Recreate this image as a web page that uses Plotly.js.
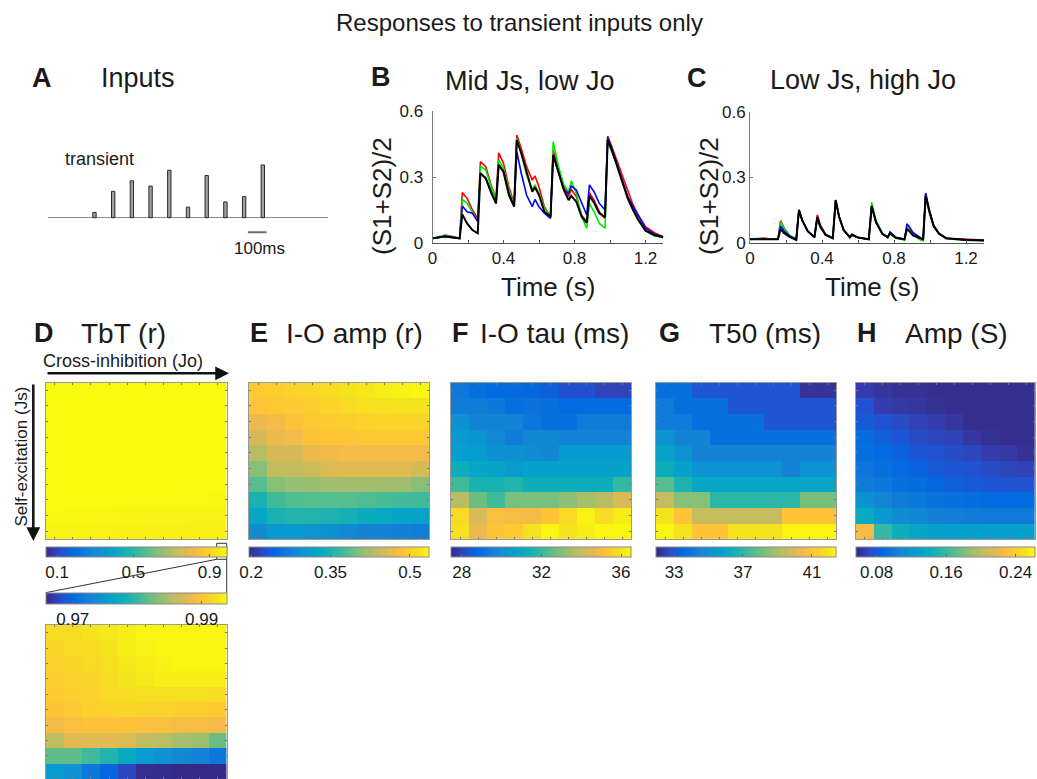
<!DOCTYPE html>
<html><head><meta charset="utf-8">
<script src="https://cdn.plot.ly/plotly-3.0.1.min.js"></script>
<style>html,body{margin:0;padding:0;background:#fff}#plot{width:1037px;height:779px}</style>
</head><body><div id="plot"></div>
<script>
const W = 1037, H = 779;
const FONT = 'Liberation Sans, Arial, Helvetica, sans-serif';

// ---------- Panel A: transient inputs ----------
const inputTimes = [0.05, 0.15, 0.25, 0.35, 0.45, 0.55, 0.65, 0.75, 0.85, 0.95];
const inputAmps  = [0.1, 0.5, 0.7, 0.6, 0.9, 0.2, 0.8, 0.3, 0.4, 1.0];

// ---------- Panel B: Mid Js, low Jo ----------
const timeB = [0,0.04,0.07,0.1,0.153,0.168,0.195,0.225,0.255,0.27,0.3,0.33,0.358,0.373,0.4,0.43,0.46,0.475,0.5,0.53,0.562,0.577,0.6,0.63,0.665,0.68,0.71,0.74,0.767,0.782,0.81,0.84,0.869,0.884,0.91,0.94,0.972,0.987,1.01,1.04,1.07,1.1,1.13,1.16,1.2,1.25,1.3];
const redB   = [0.021,0.026,0.036,0.032,0.021,0.229,0.203,0.15,0.112,0.37,0.347,0.264,0.203,0.41,0.362,0.256,0.18,0.491,0.43,0.347,0.286,0.305,0.256,0.165,0.12,0.423,0.332,0.256,0.211,0.244,0.211,0.127,0.097,0.229,0.195,0.142,0.112,0.486,0.438,0.37,0.302,0.233,0.173,0.127,0.074,0.047,0.029];
const greenB = [0.021,0.03,0.032,0.03,0.021,0.198,0.18,0.142,0.10,0.35,0.332,0.256,0.203,0.377,0.34,0.24,0.173,0.476,0.408,0.309,0.241,0.264,0.226,0.158,0.12,0.461,0.347,0.264,0.233,0.282,0.226,0.12,0.067,0.18,0.142,0.089,0.067,0.461,0.415,0.355,0.279,0.203,0.15,0.102,0.056,0.032,0.024];
const blueB  = [0.021,0.026,0.03,0.028,0.021,0.168,0.142,0.135,0.097,0.317,0.294,0.226,0.18,0.355,0.324,0.226,0.168,0.415,0.317,0.218,0.165,0.198,0.165,0.135,0.112,0.40,0.324,0.241,0.226,0.259,0.241,0.18,0.127,0.264,0.233,0.18,0.15,0.48,0.43,0.355,0.279,0.211,0.165,0.12,0.067,0.041,0.026];
const blackB = [0.021,0.026,0.03,0.026,0.021,0.13,0.089,0.059,0.044,0.317,0.294,0.233,0.18,0.355,0.324,0.218,0.165,0.468,0.408,0.324,0.233,0.253,0.218,0.142,0.12,0.40,0.317,0.241,0.195,0.214,0.188,0.12,0.092,0.214,0.183,0.135,0.117,0.468,0.423,0.347,0.271,0.203,0.15,0.105,0.056,0.036,0.026];

// ---------- Panel C: Low Js, high Jo ----------
const timeC = [0,0.04,0.08,0.12,0.155,0.17,0.19,0.22,0.257,0.272,0.29,0.32,0.358,0.374,0.39,0.42,0.46,0.476,0.495,0.52,0.555,0.566,0.6,0.66,0.676,0.7,0.735,0.765,0.778,0.81,0.858,0.872,0.885,0.905,0.95,0.962,0.976,0.996,1.02,1.05,1.09,1.2,1.3];
const redC   = [0.017,0.02,0.023,0.017,0.017,0.103,0.068,0.035,0.017,0.148,0.105,0.056,0.027,0.129,0.085,0.04,0.022,0.195,0.12,0.06,0.026,0.036,0.025,0.017,0.172,0.098,0.043,0.026,0.045,0.024,0.017,0.075,0.063,0.04,0.018,0.017,0.222,0.148,0.08,0.043,0.022,0.017,0.013];
const greenC = [0.017,0.018,0.02,0.017,0.017,0.098,0.065,0.035,0.017,0.149,0.103,0.055,0.026,0.114,0.072,0.037,0.022,0.195,0.12,0.06,0.026,0.036,0.025,0.017,0.186,0.105,0.045,0.026,0.042,0.022,0.013,0.072,0.062,0.037,0.012,0.012,0.215,0.14,0.076,0.042,0.02,0.013,0.012];
const blueC  = [0.017,0.017,0.02,0.017,0.017,0.078,0.055,0.032,0.017,0.15,0.105,0.055,0.026,0.12,0.075,0.037,0.022,0.195,0.12,0.06,0.026,0.035,0.025,0.017,0.17,0.095,0.042,0.026,0.051,0.026,0.017,0.088,0.075,0.048,0.022,0.02,0.229,0.152,0.082,0.044,0.022,0.015,0.012];
const blackC = [0.017,0.017,0.02,0.017,0.017,0.063,0.045,0.028,0.014,0.152,0.105,0.055,0.026,0.118,0.075,0.037,0.022,0.197,0.12,0.06,0.026,0.04,0.025,0.017,0.168,0.095,0.042,0.026,0.045,0.024,0.017,0.063,0.055,0.035,0.018,0.017,0.217,0.145,0.078,0.042,0.022,0.014,0.012];

// ---------- Heatmaps (rows: Js low->high, cols: Jo low->high) ----------
const tbtR = [
 [0.9919,0.9919,0.9925,0.9928,0.9931,0.9936,0.9936,0.9936,0.9936,0.9936],
 [0.9914,0.9917,0.9919,0.9925,0.9931,0.9933,0.9936,0.9936,0.9936,0.9936],
 [0.9911,0.9914,0.9917,0.9922,0.9928,0.9931,0.9933,0.9936,0.9936,0.9936],
 [0.9908,0.9911,0.9914,0.9919,0.9925,0.9928,0.9931,0.9931,0.9931,0.9931],
 [0.9905,0.9908,0.9911,0.9917,0.9919,0.9922,0.9922,0.9922,0.9922,0.9919],
 [0.9900,0.9902,0.9908,0.9911,0.9914,0.9914,0.9911,0.9908,0.9908,0.9905],
 [0.9888,0.9894,0.9897,0.9897,0.9897,0.9894,0.9894,0.9891,0.9891,0.9888],
 [0.9858,0.9877,0.9877,0.9877,0.9874,0.9860,0.9855,0.9846,0.9841,0.9821],
 [0.9816,0.9816,0.9804,0.9790,0.9770,0.9751,0.9742,0.9734,0.9726,0.9714],
 [0.9751,0.9742,0.9714,0.9697,0.9678,0.9661,0.9660,0.9658,0.9656,0.9656]
];
const ioAmpR = [
 [0.495,0.499,0.502,0.505,0.512,0.519,0.522,0.526,0.529,0.533],
 [0.488,0.492,0.495,0.499,0.505,0.512,0.516,0.516,0.519,0.519],
 [0.468,0.475,0.485,0.492,0.495,0.499,0.502,0.505,0.505,0.505],
 [0.454,0.468,0.475,0.485,0.488,0.488,0.492,0.492,0.492,0.492],
 [0.434,0.454,0.454,0.468,0.471,0.475,0.475,0.475,0.475,0.475],
 [0.407,0.441,0.441,0.448,0.458,0.461,0.461,0.461,0.461,0.451],
 [0.383,0.407,0.414,0.417,0.420,0.420,0.420,0.420,0.420,0.407],
 [0.349,0.373,0.380,0.383,0.383,0.383,0.380,0.376,0.373,0.373],
 [0.325,0.349,0.356,0.356,0.352,0.346,0.335,0.329,0.322,0.318],
 [0.291,0.305,0.305,0.301,0.298,0.288,0.281,0.278,0.274,0.271]
];
const ioTauMs = [
 [29.27,29.0,28.82,28.82,28.73,28.54,28.27,28.27,28.0,28.0],
 [29.45,29.45,29.27,29.0,29.09,29.0,28.82,28.82,28.82,28.82],
 [30.17,29.72,29.72,29.63,29.18,29.0,29.0,29.45,29.45,29.45],
 [30.35,30.26,29.9,29.45,29.81,29.81,29.63,29.63,29.63,29.63],
 [30.53,30.44,30.17,30.17,29.99,29.81,30.35,30.35,30.35,30.35],
 [31.26,30.9,30.8,30.44,30.71,30.71,30.71,30.71,30.71,30.71],
 [32.16,31.53,31.53,31.71,31.26,31.26,31.26,31.26,31.26,31.98],
 [33.79,32.7,32.16,32.88,32.88,32.88,33.16,33.52,33.79,34.33],
 [35.78,34.33,35.05,34.96,34.87,35.23,35.78,36.32,35.87,36.23],
 [35.96,34.69,35.23,35.42,35.96,36.41,36.05,36.23,36.41,36.41]
];
const t50Ms = [
 [33.7,33.7,33.0,33.0,33.0,33.0,33.0,33.0,32.2,32.2],
 [34.2,33.7,33.7,33.7,33.0,33.0,33.0,33.0,33.0,33.0],
 [34.2,34.2,33.7,33.7,33.7,33.7,33.0,33.0,33.0,33.0],
 [35.1,34.5,34.5,33.7,33.7,33.7,33.7,33.7,33.7,33.7],
 [35.7,35.1,34.5,34.5,34.5,34.5,34.5,34.5,34.5,34.5],
 [36.3,35.7,35.1,35.1,35.1,35.1,35.1,34.5,35.1,35.1],
 [37.7,36.7,35.9,35.9,35.9,35.9,35.9,35.9,35.9,35.9],
 [39.5,38.4,38.4,37.0,37.0,37.0,37.0,37.0,38.2,38.2],
 [41.9,40.9,39.5,39.5,39.5,39.5,39.5,40.9,40.9,40.9],
 [42.3,41.9,40.9,40.9,41.9,41.9,41.9,42.3,42.3,42.3]
];
const ampS = [
 [0.066,0.062,0.060,0.060,0.058,0.058,0.058,0.058,0.058,0.058],
 [0.075,0.066,0.064,0.062,0.060,0.058,0.058,0.058,0.058,0.058],
 [0.079,0.075,0.072,0.068,0.066,0.062,0.058,0.058,0.058,0.058],
 [0.089,0.081,0.077,0.072,0.070,0.068,0.062,0.060,0.058,0.058],
 [0.091,0.087,0.083,0.077,0.075,0.072,0.070,0.066,0.064,0.060],
 [0.095,0.091,0.087,0.083,0.079,0.077,0.075,0.072,0.070,0.068],
 [0.101,0.097,0.091,0.089,0.085,0.081,0.079,0.077,0.075,0.075],
 [0.118,0.108,0.101,0.097,0.093,0.091,0.089,0.087,0.087,0.087],
 [0.138,0.122,0.114,0.110,0.105,0.103,0.101,0.099,0.099,0.099],
 [0.225,0.159,0.143,0.134,0.128,0.128,0.128,0.128,0.128,0.128]
];

// colour ticks of each colour bar
const tbtTicks = [0.1, 0.5, 0.9];
const tbtZoomTicks = [0.97, 0.99];
const ampTicks = [0.2, 0.35, 0.5];
const tauTicks = [28, 32, 36];
const t50Ticks = [33, 37, 41];
const ampSTicks = [0.08, 0.16, 0.24];

// MATLAB parula (sampled)
const parulaRGB = [[0.2081,0.1663,0.5292],[0.2081,0.2386,0.6771],[0.1253,0.3242,0.8303],[0.0060,0.4086,0.8828],[0.0498,0.4586,0.8641],[0.0779,0.5040,0.8384],[0.0641,0.5570,0.8240],[0.0265,0.6137,0.8135],[0.0228,0.6535,0.7768],[0.0590,0.6838,0.7254],[0.1453,0.7098,0.6646],[0.2586,0.7317,0.5954],[0.3953,0.7459,0.5244],[0.5300,0.7491,0.4661],[0.6473,0.7456,0.4188],[0.7525,0.7384,0.3768],[0.8507,0.7299,0.3360],[0.9450,0.7261,0.2886],[0.9990,0.7653,0.2164],[0.9789,0.8271,0.1633],[0.9589,0.8949,0.1132],[0.9763,0.9831,0.0538]];
const parula = parulaRGB.map((c,i)=>[i/(parulaRGB.length-1), 'rgb('+c.map(v=>Math.round(v*255)).join(',')+')']);

// ---------- layout helpers (pixel -> paper) ----------
const fx = p => p / W;
const fy = p => 1 - p / H;
const domX = (a,b) => [fx(a), fx(b)];
const domY = (top,bot) => [fy(bot), fy(top)];

const HM_TOP = 382.5, HM_BOT = 539;
const hmX = {D:[45.7,226.7], E:[249,429], F:[451,631], G:[656,836], H:[855.7,1035]};

function hmXAxis(d, anchor){ return {anchor:anchor, domain: domX(d[0],d[1]), range:[-0.5,9.5], showgrid:false, zeroline:false, showline:true, mirror:'ticks', linecolor:'#9a9a9a', linewidth:1, ticks:'inside', ticklen:2, tickcolor:'#777', tickvals:[0,1,2,3,4,5,6,7,8,9], showticklabels:false, fixedrange:true}; }
function hmYAxis(top,bot, anchor){ return {anchor:anchor, domain: domY(top,bot), range:[9.5,-0.5], showgrid:false, zeroline:false, showline:true, mirror:'ticks', linecolor:'#9a9a9a', linewidth:1, ticks:'inside', ticklen:2, tickcolor:'#777', tickvals:[0,1,2,3,4,5,6,7,8,9], showticklabels:false, fixedrange:true}; }
function cbar(d, topPx, ticks, thick){
  return {orientation:'h', thicknessmode:'pixels', thickness:thick||10, lenmode:'fraction', len:(d[1]-d[0])/W,
          x:fx(d[0]), xanchor:'left', y:fy(topPx), yanchor:'top', xpad:0, ypad:0,
          outlinewidth:1, outlinecolor:'#8a8a8a', tickvals:ticks, ticks:'inside', ticklen:3, tickcolor:'#666',
          tickfont:{size:17, color:'#1a1a1a', family:FONT}};
}
function heat(z, xa, ya, zmin, zmax, cb){
  return {type:'heatmap', z:z, xaxis:xa, yaxis:ya, zmin:zmin, zmax:zmax, colorscale:parula, colorbar:cb, showscale:true, hoverinfo:'skip', zsmooth:false};
}

const traces = [];
// A
traces.push({type:'bar', x:inputTimes, y:inputAmps, width:0.018, xaxis:'x', yaxis:'y',
  marker:{color:'#a0a0a0', line:{color:'#2a2a2a', width:1}}, hoverinfo:'skip'});
// B and C lines
const lineSets = [
  ['x2','y2',timeB,[redB,greenB,blueB,blackB]],
  ['x3','y3',timeC,[redC,greenC,blueC,blackC]]
];
const cols = ['#ff0000','#00e600','#0000ff','#000000'];
lineSets.forEach(([xa,ya,t,series])=>{
  series.forEach((s,i)=>traces.push({type:'scatter', mode:'lines', x:t, y:s, xaxis:xa, yaxis:ya,
    line:{color:cols[i], width: i===3?2:1.6}, hoverinfo:'skip'}));
});
// heatmaps
traces.push(heat(tbtR,'x4','y4',0.04,0.99,cbar(hmX.D,546.7,tbtTicks)));
traces.push(heat(tbtR,'x5','y5',0.9658,0.9939,cbar(hmX.D,592.7,tbtZoomTicks,10.6)));
traces.push(heat(ioAmpR,'x6','y6',0.196,0.536,cbar(hmX.E,546.7,ampTicks)));
traces.push(heat(ioTauMs,'x7','y7',27.46,36.5,cbar(hmX.F,546.7,tauTicks)));
traces.push(heat(t50Ms,'x8','y8',31.95,42.4,cbar(hmX.G,546.7,t50Ticks)));
traces.push(heat(ampS,'x9','y9',0.056,0.262,cbar(hmX.H,546.7,ampSTicks)));

function lineAxisX(d, anchor){
  return {anchor:anchor, domain:domX(d[0],d[1]), range:[0,1.3], showgrid:false, zeroline:false, showline:true, linecolor:'#555', linewidth:1,
    tickmode:'array', tickvals:[0,0.2,0.4,0.6,0.8,1.0,1.2], ticktext:['0','','0.4','','0.8','','1.2'],
    ticks:'inside', ticklen:3, tickcolor:'#555', tickfont:{size:17,color:'#1a1a1a'}, fixedrange:true};
}
function lineAxisY(top,bot, anchor, standoff){
  return {anchor:anchor, domain:domY(top,bot), range:[0,0.6], showgrid:false, zeroline:false, showline:true, linecolor:'#777', linewidth:1,
    tickmode:'array', tickvals:[0,0.3,0.6], ticktext:['0','0.3','0.6'], ticks:'inside', ticklen:3, tickcolor:'#777',
    ticklabelstandoff:standoff, tickfont:{size:17,color:'#1a1a1a'}, fixedrange:true};
}

const layout = {
  width:W, height:H, margin:{l:0,r:0,t:0,b:0}, paper_bgcolor:'#fff', plot_bgcolor:'#fff',
  font:{family:FONT, color:'#1a1a1a'}, showlegend:false,
  xaxis:{anchor:'y', domain:domX(47.7,328.3), range:[-0.2,1.3], visible:false, fixedrange:true},
  yaxis:{anchor:'x', domain:domY(159.7,238.8), range:[-0.4,1.1], showgrid:false, showline:false, showticklabels:false, ticks:'',
         zeroline:true, zerolinecolor:'#8c8c8c', zerolinewidth:1.5, fixedrange:true},
  xaxis2:lineAxisX([432.5,663.25],'y2'), yaxis2:lineAxisY(111,243,'x2',5),
  xaxis3:lineAxisX([750,984],'y3'),     yaxis3:lineAxisY(112,243,'x3',0),
  xaxis4:hmXAxis(hmX.D,'y4'), yaxis4:hmYAxis(HM_TOP,HM_BOT,'x4'),
  xaxis5:hmXAxis(hmX.D,'y5'), yaxis5:hmYAxis(625,779,'x5'),
  xaxis6:hmXAxis(hmX.E,'y6'), yaxis6:hmYAxis(HM_TOP,HM_BOT,'x6'),
  xaxis7:hmXAxis(hmX.F,'y7'), yaxis7:hmYAxis(HM_TOP,HM_BOT,'x7'),
  xaxis8:hmXAxis(hmX.G,'y8'), yaxis8:hmYAxis(HM_TOP,HM_BOT,'x8'),
  xaxis9:hmXAxis(hmX.H,'y9'), yaxis9:hmYAxis(HM_TOP,HM_BOT,'x9'),
  shapes:[
    // 100 ms scale bar
    {type:'line', xref:'x', yref:'y', x0:0.87, x1:0.97, y0:-0.277, y1:-0.277, line:{color:'#6a6a6a', width:2}},
    // zoom box on TbT colour bar and connecting lines
    {type:'rect', xref:'paper', yref:'paper', x0:fx(216.7), x1:fx(226.7), y0:fy(559.3), y1:fy(543.3), line:{color:'#333', width:1}},
    {type:'line', xref:'paper', yref:'paper', x0:fx(216.7), y0:fy(559.3), x1:fx(45.7), y1:fy(592.7), line:{color:'#333', width:1}},
    {type:'line', xref:'paper', yref:'paper', x0:fx(226.7), y0:fy(559.3), x1:fx(226.7), y1:fy(592.7), line:{color:'#333', width:1}}
  ],
  annotations:[]
};

function ann(text, px, py, size, extra){
  return Object.assign({text:text, x:fx(px), y:fy(py), xref:'paper', yref:'paper', xanchor:'center', yanchor:'middle',
    showarrow:false, font:{size:size, color:'#1a1a1a', family:FONT}}, extra||{});
}
const A = layout.annotations;
A.push(ann('Responses to transient inputs only', 519, 22, 24));
A.push(ann('<b>A</b>', 42, 78, 27));
A.push(ann('Inputs', 138, 78, 27));
A.push(ann('transient', 99, 159, 18));
A.push(ann('100ms', 259, 248, 17));
A.push(ann('<b>B</b>', 381, 77, 27));
A.push(ann('Mid Js, low Jo', 530, 81, 27));
A.push(ann('<b>C</b>', 697, 78, 27));
A.push(ann('Low Js, high Jo', 863, 80, 27));
A.push(ann('Time (s)', 548, 287, 26));
A.push(ann('Time (s)', 872, 287, 26));
A.push(ann('(S1+S2)/2', 382, 196, 26, {textangle:-90}));
A.push(ann('(S1+S2)/2', 709, 196, 26, {textangle:-90}));
A.push(ann('<b>D</b>', 43.5, 333, 27));
A.push(ann('TbT (r)', 123, 333, 28));
A.push(ann('<b>E</b>', 259, 333, 27));
A.push(ann('I-O amp (r)', 354, 333, 28));
A.push(ann('<b>F</b>', 460, 333, 27));
A.push(ann('I-O tau (ms)', 554, 333, 28));
A.push(ann('<b>G</b>', 669, 333, 27));
A.push(ann('T50 (ms)', 765, 333, 28));
A.push(ann('<b>H</b>', 867, 333, 27));
A.push(ann('Amp (S)', 956, 333, 28));
A.push(ann('Cross-inhibition (Jo)', 123, 361, 18));
A.push(ann('Self-excitation (Js)', 20.5, 457, 17, {textangle:-90}));
// arrows
A.push({text:'', x:fx(229), y:fy(373.3), xref:'paper', yref:'paper', showarrow:true, ax:-183, ay:0,
        arrowhead:2, arrowsize:1.1, arrowwidth:2.5, arrowcolor:'#111'});
A.push({text:'', x:fx(33.3), y:fy(541), xref:'paper', yref:'paper', showarrow:true, ax:0, ay:-158,
        arrowhead:2, arrowsize:1.1, arrowwidth:2.5, arrowcolor:'#111'});

Plotly.newPlot('plot', traces, layout, {staticPlot:true, displayModeBar:false});
</script>
</body></html>
